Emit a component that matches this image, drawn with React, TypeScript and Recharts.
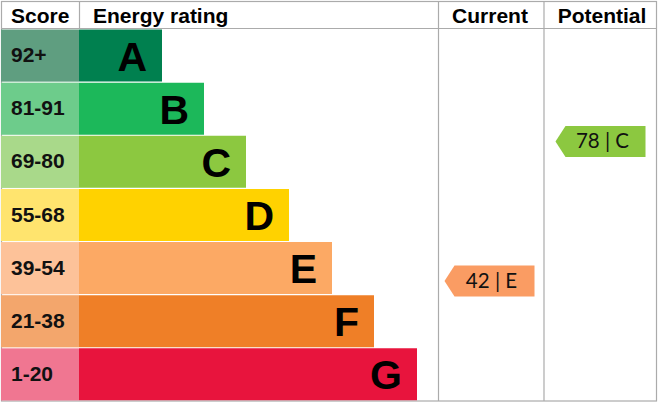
import React from 'react';
import {
  BarChart,
  Bar,
  XAxis,
  YAxis,
  Cell,
  LabelList,
  ScatterChart,
  Scatter,
} from 'recharts';

const bands = ['A', 'B', 'C', 'D', 'E', 'F', 'G'];
const scoreRanges = ['92+', '81-91', '69-80', '55-68', '39-54', '21-38', '1-20'];
const barLengths = [83, 125, 167, 210, 253, 295, 338];
const barColors = ['#00804f', '#1cb85a', '#8cc840', '#ffd200', '#fca964', '#ef7f27', '#e8143d'];
const scoreColors = ['#5f9e80', '#6dcc8b', '#a9d98a', '#ffe46e', '#fdc299', '#f3a66c', '#f07691'];

const columns = ['Current', 'Potential'];
const ratingScores = [42, 78];
const ratingBands = ['E', 'C'];
const ratingColors = ['#fa9c63', '#8cc840'];

const headers = ['Score', 'Energy rating', 'Current', 'Potential'];

const W = 658;
const H = 404;
const TOP = 29;
const BOTTOM = 3;
const ROW_H = (H - TOP - BOTTOM) / bands.length;
const LINE = '#ababab';
const FONT = "'Liberation Sans', Arial, sans-serif";

const barData = bands.map((b, i) => ({ band: b, range: scoreRanges[i], length: barLengths[i] }));
const ratingData = columns.map((c, i) => ({ col: c, score: ratingScores[i], band: ratingBands[i], color: ratingColors[i] }));

const ScoreTick = (props: any) => {
  const { x, y, payload } = props;
  const i = bands.indexOf(payload.value);
  return (
    <g>
      <rect x={x - 78} y={y - ROW_H / 2 + 0.5} width={78} height={ROW_H - 1} fill={scoreColors[i]} />
      <text x={x - 68} y={y + 6.5} fontFamily={FONT} fontWeight="bold" fontSize={21} fill="#111">
        {scoreRanges[i]}
      </text>
    </g>
  );
};

const LetterLabel = (props: any) => {
  const { x, y, width, height, value } = props;
  return (
    <text
      x={x + width - 15}
      y={y + height / 2 + 15}
      textAnchor="end"
      fontFamily={FONT}
      fontWeight="bold"
      fontSize={41}
      fill="#000"
    >
      {value}
    </text>
  );
};

const Arrow = (props: any) => {
  const { cx, cy, payload } = props;
  const w = 90;
  const h = 31;
  const tip = 10;
  const l = cx - w / 2;
  const r = cx + w / 2;
  const pts = `${l},${cy} ${l + tip},${cy - h / 2} ${r},${cy - h / 2} ${r},${cy + h / 2} ${l + tip},${cy + h / 2}`;
  return (
    <g>
      <polygon points={pts} fill={payload.color} />
      <text
        x={cx + 2}
        y={cy + 7}
        textAnchor="middle"
        fontFamily="Lato, 'Open Sans', sans-serif"
        fontSize={20.5}
        fill="#111"
      >
        {`${payload.score} | ${payload.band}`}
      </text>
    </g>
  );
};

export default function App() {
  return (
    <div style={{ position: 'absolute', left: 0, top: 0, width: W, height: H, background: '#fff' }}>
      <svg width={W} height={H} style={{ position: 'absolute', left: 0, top: 0 }}>
        <rect x={1.5} y={1.5} width={655} height={399.5} fill="none" stroke={LINE} strokeWidth={1.2} />
        <line x1={1} y1={28.5} x2={657} y2={28.5} stroke={LINE} strokeWidth={1.2} />
        <line x1={79.5} y1={1} x2={79.5} y2={29} stroke={LINE} strokeWidth={1.2} />
        <line x1={438.5} y1={1} x2={438.5} y2={401} stroke={LINE} strokeWidth={1.2} />
        <line x1={544} y1={1} x2={544} y2={401} stroke={LINE} strokeWidth={1.2} />
        <text x={11} y={23} fontFamily={FONT} fontWeight="bold" fontSize={21} fill="#000">{headers[0]}</text>
        <text x={93} y={23} fontFamily={FONT} fontWeight="bold" fontSize={21} fill="#000">{headers[1]}</text>
        <text x={490} y={23} textAnchor="middle" fontFamily={FONT} fontWeight="bold" fontSize={21} fill="#000">{headers[2]}</text>
        <text x={602} y={23} textAnchor="middle" fontFamily={FONT} fontWeight="bold" fontSize={21} fill="#000">{headers[3]}</text>
      </svg>
      <div style={{ position: 'absolute', left: 0, top: 0 }}>
        <BarChart
          width={W}
          height={H}
          data={barData}
          layout="vertical"
          margin={{ top: TOP, right: 2, bottom: BOTTOM, left: 1 }}
          barCategoryGap={0.5}
        >
          <XAxis type="number" domain={[0, 577]} hide />
          <YAxis
            type="category"
            dataKey="band"
            width={78}
            axisLine={false}
            tickLine={false}
            tickSize={0}
            tickMargin={0}
            tick={<ScoreTick />}
            interval={0}
          />
          <Bar dataKey="length" isAnimationActive={false}>
            {barData.map((d, i) => (
              <Cell key={d.band} fill={barColors[i]} />
            ))}
            <LabelList dataKey="band" content={<LetterLabel />} />
          </Bar>
        </BarChart>
      </div>
      <div style={{ position: 'absolute', left: 0, top: 0 }}>
        <ScatterChart width={W} height={H} margin={{ top: TOP, right: 2, bottom: BOTTOM, left: 434 }}>
          <XAxis type="category" dataKey="col" allowDuplicatedCategory={false} hide />
          <YAxis type="number" dataKey="score" domain={[11, 107]} hide />
          <Scatter data={ratingData} shape={<Arrow />} isAnimationActive={false} />
        </ScatterChart>
      </div>
    </div>
  );
}
